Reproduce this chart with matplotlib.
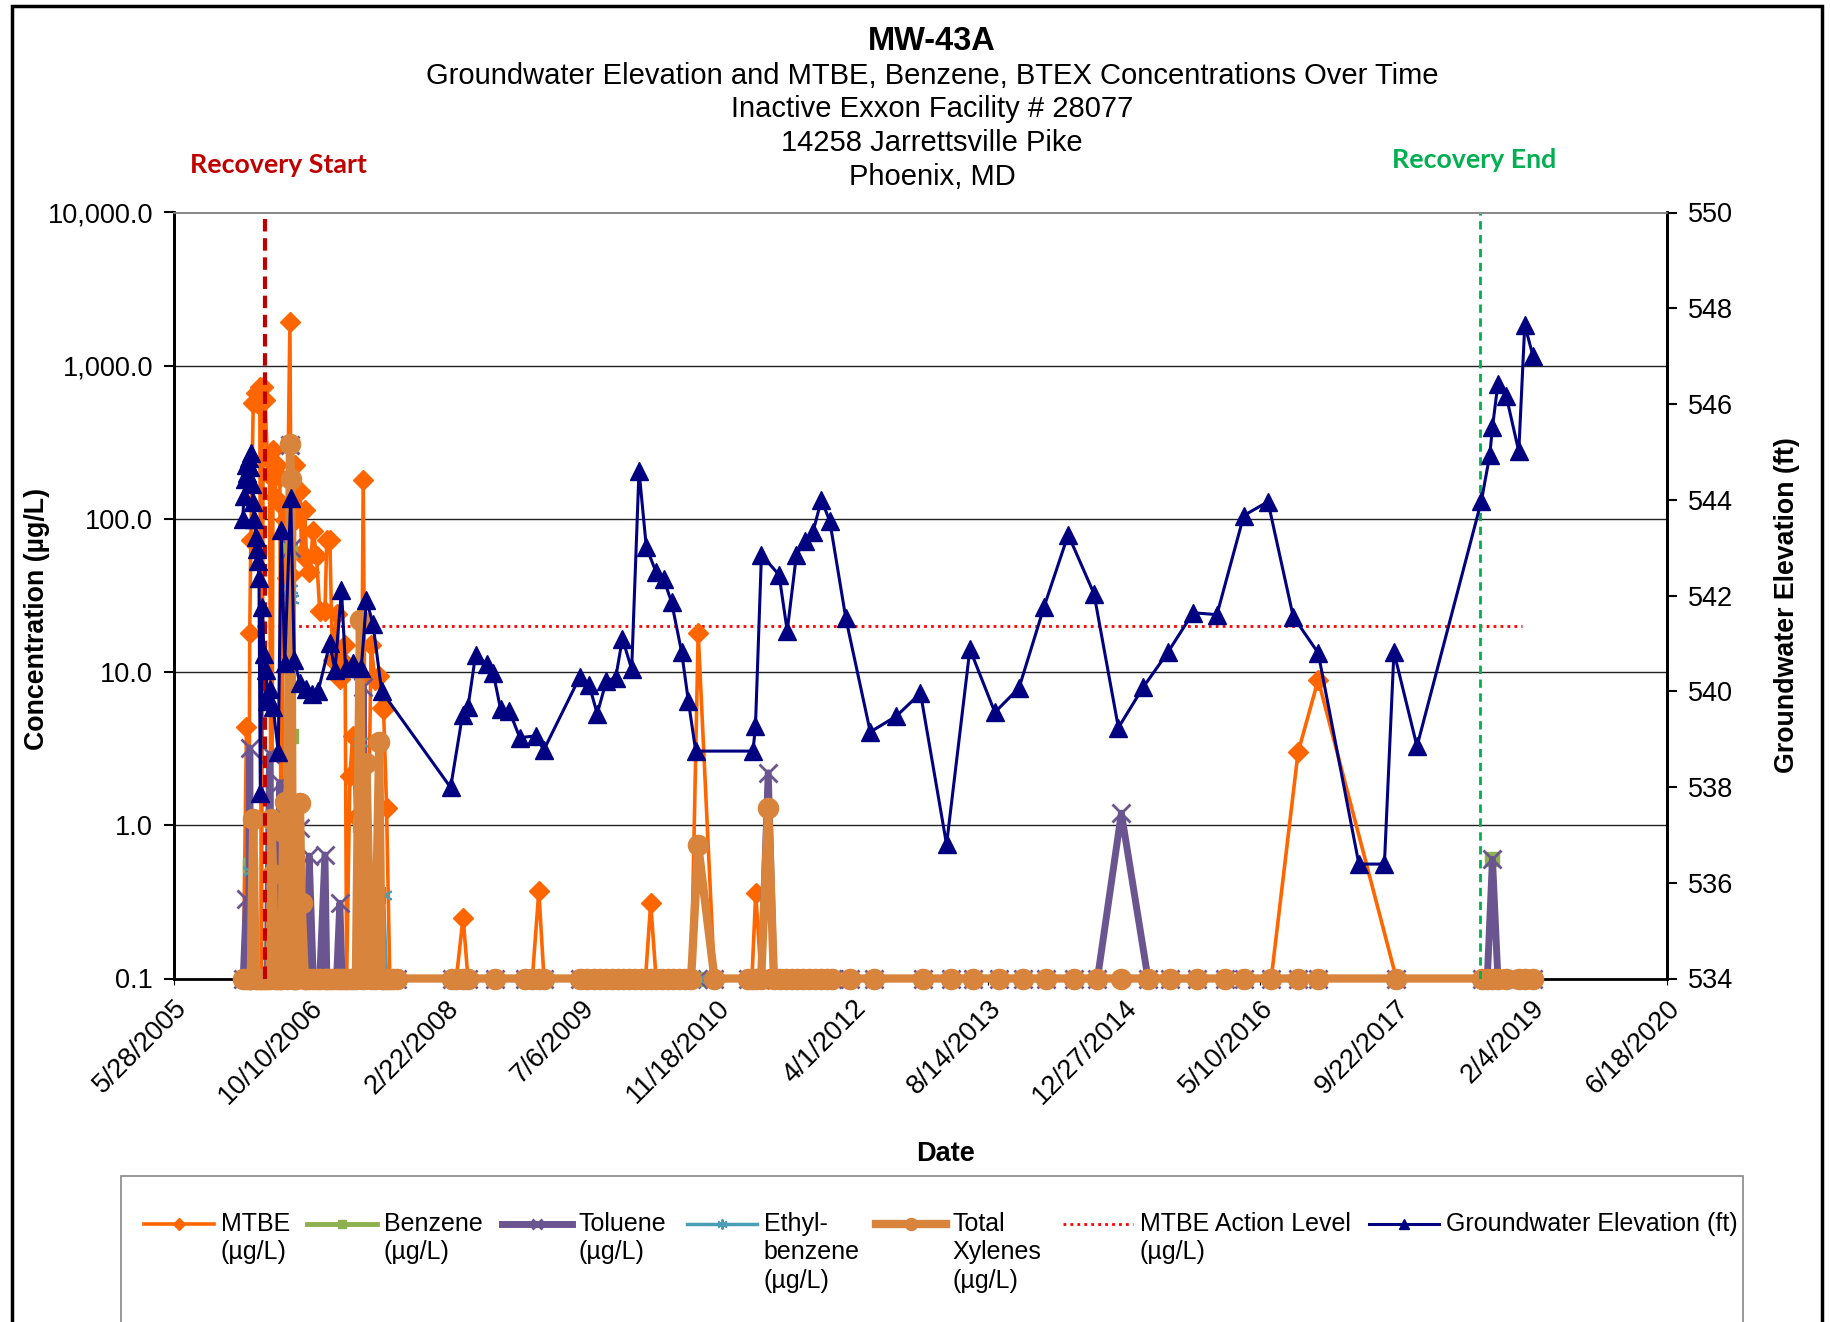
import pandas as pd
import matplotlib
matplotlib.use('Agg')
import matplotlib.pyplot as plt
from matplotlib.ticker import FixedLocator, FuncFormatter, NullLocator
from matplotlib.lines import Line2D
from matplotlib.patches import Rectangle

plt.rcParams['font.family'] = ['Liberation Sans', 'DejaVu Sans']

# ---- sampling data (non-detects plotted at 0.1 ug/L) ----
early_dates = [
    '2006-02-07', '2006-02-19', '2006-02-27', '2006-03-03', '2006-03-07', '2006-03-16',
    '2006-03-25', '2006-03-31', '2006-04-09', '2006-04-15', '2006-04-22', '2006-04-28',
    '2006-05-07', '2006-05-15', '2006-05-22', '2006-05-28', '2006-06-04', '2006-06-10',
    '2006-06-22', '2006-06-27', '2006-07-04', '2006-07-10', '2006-07-17', '2006-07-29',
    '2006-08-03', '2006-08-09', '2006-08-16', '2006-08-22', '2006-09-04', '2006-09-10',
    '2006-09-22', '2006-09-28', '2006-10-08', '2006-10-23', '2006-11-04', '2006-11-16',
    '2006-12-05', '2006-12-12', '2006-12-23', '2007-01-02', '2007-01-17', '2007-01-29',
    '2007-02-06', '2007-02-17', '2007-02-23', '2007-03-07', '2007-03-17', '2007-03-29',
    '2007-04-13', '2007-04-25', '2007-05-07', '2007-05-24', '2007-06-07', '2007-06-23',
    '2007-07-02', '2007-07-09', '2007-07-20', '2007-08-01', '2007-08-14', '2007-08-27',
]
early_mtbe = [
    0.1, 4.4, 0.1, 17.9, 73, 573, 660, 573, 730, 0.1, 730, 600,
    250, 190, 0.1, 282, 140, 224, 189, 0.1, 120, 98, 41, 1937,
    43, 0.1, 224, 100, 151, 60, 114, 55, 45, 83, 57, 25,
    25, 73, 73, 12, 24, 9, 12, 15, 0.1, 2.1, 3.8, 1.14,
    0.1, 180, 0.1, 15, 8.9, 9.5, 5.8, 5.7, 1.3, 0.1, 0.1, 0.1,
]
early_benzene = [
    0.1, 0.1, 0.1, 0.55, 0.1, 0.1, 0.1, 0.1, 0.1, 0.1, 0.1, 0.1,
    0.1, 0.1, 0.1, 0.1, 0.1, 0.1, 0.1, 0.1, 0.1, 0.1, 0.1, 63,
    3.8, 0.1, 0.1, 0.1, 0.1, 0.1, 0.1, 0.1, 0.1, 0.1, 0.1, 0.1,
    0.1, 0.1, 0.1, 0.1, 0.1, 0.1, 0.1, 0.1, 0.1, 0.1, 0.1, 0.1,
    1.0, 0.1, 0.1, 0.1, 0.1, 0.1, 0.1, 0.1, 0.1, 0.1, 0.1, 0.1,
]
early_toluene = [
    0.1, 0.33, 0.1, 3.2, 0.1, 0.1, 0.1, 0.1, 0.1, 0.1, 0.1, 0.1,
    0.1, 2.9, 0.1, 0.1, 0.1, 0.1, 1.9, 0.1, 0.1, 0.1, 0.1, 304,
    65, 0.1, 0.1, 0.1, 0.96, 0.1, 0.1, 0.1, 0.63, 0.1, 0.1, 0.1,
    0.64, 0.1, 0.1, 0.1, 0.1, 0.31, 0.1, 0.1, 0.1, 0.1, 0.1, 0.1,
    0.1, 8.0, 0.1, 0.1, 0.1, 0.1, 0.1, 0.1, 0.1, 0.1, 0.1, 0.1,
]
early_ethylbenzene = [
    0.1, 0.1, 0.1, 0.5, 0.1, 0.1, 0.1, 0.1, 0.1, 0.1, 0.1, 0.1,
    0.1, 0.1, 0.1, 0.1, 0.1, 0.1, 0.1, 0.1, 0.1, 0.1, 0.1, 35,
    30, 0.1, 0.1, 0.1, 0.1, 0.1, 0.1, 0.1, 0.1, 0.1, 0.1, 0.1,
    0.1, 0.1, 0.1, 0.1, 0.1, 0.1, 0.1, 0.1, 0.1, 0.1, 0.1, 0.1,
    3.5, 0.1, 0.1, 0.1, 0.1, 0.1, 0.1, 0.35, 0.1, 0.1, 0.1, 0.1,
]
early_xylenes = [
    0.1, 0.1, 0.1, 0.1, 0.1, 1.1, 0.1, 0.1, 0.1, 0.1, 0.1, 0.1,
    0.1, 0.1, 1.1, 0.48, 0.1, 0.1, 0.1, 0.1, 0.91, 1.43, 0.1, 309,
    181, 0.1, 0.1, 0.1, 1.4, 0.31, 0.1, 0.1, 0.1, 0.1, 0.1, 0.1,
    0.1, 0.1, 0.1, 0.1, 0.1, 0.1, 0.1, 0.1, 0.1, 0.1, 0.1, 0.1,
    22, 0.1, 2.54, 0.1, 0.1, 3.5, 0.1, 0.1, 0.1, 0.1, 0.1, 0.1,
]

late_dates = [
    '2008-03-16', '2008-04-02', '2008-04-27', '2008-05-15', '2008-08-22', '2008-12-12',
    '2009-01-07', '2009-01-31', '2009-02-19', '2009-07-02', '2009-07-28', '2009-08-23',
    '2009-09-13', '2009-10-05', '2009-10-26', '2009-11-17', '2009-12-08', '2009-12-30',
    '2010-01-20', '2010-02-11', '2010-02-28', '2010-03-19', '2010-04-08', '2010-04-29',
    '2010-05-21', '2010-06-11', '2010-07-03', '2010-07-24', '2010-08-15', '2010-09-10',
    '2010-11-09', '2011-03-14', '2011-03-27', '2011-04-10', '2011-04-30', '2011-05-26',
    '2011-06-16', '2011-07-08', '2011-07-29', '2011-08-20', '2011-09-10', '2011-10-02',
    '2011-10-23', '2011-11-14', '2011-12-05', '2011-12-27', '2012-01-17', '2012-03-22',
    '2012-06-20', '2012-12-18', '2013-03-31', '2013-06-19', '2013-09-23', '2013-12-18',
    '2014-03-14', '2014-06-26', '2014-09-20', '2014-12-17', '2015-03-25', '2015-06-15',
    '2015-09-22', '2016-01-02', '2016-03-12', '2016-06-21', '2016-09-28', '2016-12-11',
    '2017-09-25', '2018-08-05', '2018-08-26', '2018-09-14', '2018-10-04', '2018-11-03',
    '2018-12-20', '2019-01-11', '2019-02-10',
]
late_mtbe = [
    0.1, 0.1, 0.25, 0.1, 0.1, 0.1, 0.1, 0.37, 0.1, 0.1, 0.1, 0.1, 0.1, 0.1, 0.1,
    0.1, 0.1, 0.1, 0.1, 0.1, 0.1, 0.31, 0.1, 0.1, 0.1, 0.1, 0.1, 0.1, 0.1, 18,
    0.1, 0.1, 0.1, 0.36, 0.1, 0.1, 0.1, 0.1, 0.1, 0.1, 0.1, 0.1, 0.1, 0.1, 0.1,
    0.1, 0.1, 0.1, 0.1, 0.1, 0.1, 0.1, 0.1, 0.1, 0.1, 0.1, 0.1, 0.1, 0.1, 0.1,
    0.1, 0.1, 0.1, 0.1, 3.0, 8.9, 0.1, 0.1, 0.1, 0.1, 0.1, 0.1, 0.1, 0.1, 0.1,
]
late_benzene = [
    0.1, 0.1, 0.1, 0.1, 0.1, 0.1, 0.1, 0.1, 0.1, 0.1, 0.1, 0.1, 0.1, 0.1, 0.1,
    0.1, 0.1, 0.1, 0.1, 0.1, 0.1, 0.1, 0.1, 0.1, 0.1, 0.1, 0.1, 0.1, 0.1, 0.1,
    0.1, 0.1, 0.1, 0.1, 0.1, 0.1, 0.1, 0.1, 0.1, 0.1, 0.1, 0.1, 0.1, 0.1, 0.1,
    0.1, 0.1, 0.1, 0.1, 0.1, 0.1, 0.1, 0.1, 0.1, 0.1, 0.1, 0.1, 0.1, 0.1, 0.1,
    0.1, 0.1, 0.1, 0.1, 0.1, 0.1, 0.1, 0.1, 0.1, 0.6, 0.1, 0.1, 0.1, 0.1, 0.1,
]
late_toluene = [
    0.1, 0.1, 0.1, 0.1, 0.1, 0.1, 0.1, 0.1, 0.1, 0.1, 0.1, 0.1, 0.1, 0.1, 0.1,
    0.1, 0.1, 0.1, 0.1, 0.1, 0.1, 0.1, 0.1, 0.1, 0.1, 0.1, 0.1, 0.1, 0.1, 0.1,
    0.1, 0.1, 0.1, 0.1, 0.1, 2.2, 0.1, 0.1, 0.1, 0.1, 0.1, 0.1, 0.1, 0.1, 0.1,
    0.1, 0.1, 0.1, 0.1, 0.1, 0.1, 0.1, 0.1, 0.1, 0.1, 0.1, 0.1, 1.2, 0.1, 0.1,
    0.1, 0.1, 0.1, 0.1, 0.1, 0.1, 0.1, 0.1, 0.1, 0.6, 0.1, 0.1, 0.1, 0.1, 0.1,
]
late_ethylbenzene = [
    0.1, 0.1, 0.1, 0.1, 0.1, 0.1, 0.1, 0.1, 0.1, 0.1, 0.1, 0.1, 0.1, 0.1, 0.1,
    0.1, 0.1, 0.1, 0.1, 0.1, 0.1, 0.1, 0.1, 0.1, 0.1, 0.1, 0.1, 0.1, 0.1, 0.1,
    0.1, 0.1, 0.1, 0.1, 0.1, 0.1, 0.1, 0.1, 0.1, 0.1, 0.1, 0.1, 0.1, 0.1, 0.1,
    0.1, 0.1, 0.1, 0.1, 0.1, 0.1, 0.1, 0.1, 0.1, 0.1, 0.1, 0.1, 0.1, 0.1, 0.1,
    0.1, 0.1, 0.1, 0.1, 0.1, 0.1, 0.1, 0.1, 0.1, 0.1, 0.1, 0.1, 0.1, 0.1, 0.1,
]
late_xylenes = [
    0.1, 0.1, 0.1, 0.1, 0.1, 0.1, 0.1, 0.1, 0.1, 0.1, 0.1, 0.1, 0.1, 0.1, 0.1,
    0.1, 0.1, 0.1, 0.1, 0.1, 0.1, 0.1, 0.1, 0.1, 0.1, 0.1, 0.1, 0.1, 0.1, 0.74,
    0.1, 0.1, 0.1, 0.1, 0.1, 1.3, 0.1, 0.1, 0.1, 0.1, 0.1, 0.1, 0.1, 0.1, 0.1,
    0.1, 0.1, 0.1, 0.1, 0.1, 0.1, 0.1, 0.1, 0.1, 0.1, 0.1, 0.1, 0.1, 0.1, 0.1,
    0.1, 0.1, 0.1, 0.1, 0.1, 0.1, 0.1, 0.1, 0.1, 0.1, 0.1, 0.1, 0.1, 0.1, 0.1,
]

# ---- groundwater gauging ----
gw_dates = [
    '2006-02-05', '2006-02-10', '2006-02-14', '2006-02-18', '2006-02-22', '2006-02-27',
    '2006-03-03', '2006-03-07', '2006-03-12', '2006-03-16', '2006-03-20', '2006-03-25',
    '2006-03-29', '2006-04-02', '2006-04-06', '2006-04-11', '2006-04-19', '2006-04-24',
    '2006-05-02', '2006-05-07', '2006-05-15', '2006-05-28', '2006-06-16', '2006-06-27',
    '2006-07-10', '2006-08-01', '2006-08-14', '2006-09-04', '2006-09-26', '2006-10-17',
    '2006-11-10', '2006-12-23', '2007-01-11', '2007-02-04', '2007-02-19', '2007-03-18',
    '2007-04-18', '2007-05-07', '2007-05-31', '2007-07-02',
    '2008-03-12', '2008-04-25', '2008-05-15', '2008-06-12', '2008-07-24', '2008-08-16',
    '2008-09-12', '2008-10-14', '2008-11-22', '2009-01-22', '2009-02-18', '2009-07-01',
    '2009-08-04', '2009-09-03', '2009-10-07', '2009-11-10', '2009-12-05', '2010-01-08',
    '2010-02-04', '2010-03-03', '2010-04-07', '2010-05-06', '2010-06-04', '2010-07-11',
    '2010-08-05', '2010-09-01', '2011-03-31', '2011-04-09', '2011-05-01', '2011-07-05',
    '2011-08-04', '2011-09-07', '2011-10-08', '2011-11-07', '2011-12-08', '2012-01-08',
    '2012-03-07', '2012-06-05', '2012-09-09', '2012-12-07', '2013-03-13', '2013-06-07',
    '2013-09-07', '2013-12-05', '2014-03-07', '2014-06-04', '2014-09-07', '2014-12-06',
    '2015-03-07', '2015-06-07', '2015-09-07', '2015-12-04', '2016-03-12', '2016-06-09',
    '2016-09-10', '2016-12-11', '2017-05-10', '2017-08-12', '2017-09-16', '2017-12-10',
    '2018-08-04', '2018-09-04', '2018-09-14', '2018-10-04', '2018-11-04', '2018-12-20',
    '2019-01-11', '2019-02-10',
]
gw_elev = [
    543.59, 544.07, 544.44, 544.73, 544.56, 544.88,
    544.68, 544.98, 544.32, 543.95, 543.59, 543.22,
    542.98, 542.73, 542.37, 537.88, 541.76, 540.78,
    540.44, 539.80, 540.05, 539.68, 538.74, 543.37,
    540.59, 544.04, 540.66, 540.17, 540.05, 539.95,
    540.00, 541.00, 540.44, 542.12, 540.49, 540.59,
    540.49, 541.90, 541.41, 540.00,
    537.99, 539.51, 539.67, 540.76, 540.57, 540.38,
    539.63, 539.59, 539.03, 539.07, 538.77, 540.30,
    540.14, 539.53, 540.22, 540.28, 541.10, 540.46,
    544.61, 543.01, 542.50, 542.34, 541.86, 540.82,
    539.79, 538.75, 538.75, 539.27, 542.85, 542.43,
    541.26, 542.85, 543.13, 543.33, 544.00, 543.55,
    541.52, 539.15, 539.48, 539.96, 536.80, 540.88,
    539.56, 540.07, 541.76, 543.27, 542.04, 539.24,
    540.08, 540.82, 541.64, 541.60, 543.67, 543.96,
    541.56, 540.80, 536.39, 536.39, 540.82, 538.85,
    543.97, 544.93, 545.51, 546.42, 546.16, 545.01,
    547.65, 547.01,
]

action_level_dates = ['2006-03-03', '2019-01-01']
action_level = [20, 20]

recovery_start = '2006-04-28'
recovery_end = '2018-07-31'

# ---- figure ----
fig = plt.figure(figsize=(18.31, 13.22), dpi=100)
ax = fig.add_axes([174 / 1831, 1 - 978.5 / 1322, (1667 - 174) / 1831, (978.5 - 212.5) / 1322])
ax2 = ax.twinx()

conc_dates = pd.to_datetime(early_dates + late_dates)

styles = [
    ('MTBE\n(µg/L)', early_mtbe + late_mtbe,
     dict(color='#FF6600', lw=2.6, marker='D', ms=10, mec='#FF6600')),
    ('Benzene\n(µg/L)', early_benzene + late_benzene,
     dict(color='#8EB04F', lw=3.5, marker='s', ms=10, mec='#8EB04F')),
    ('Toluene\n(µg/L)', early_toluene + late_toluene,
     dict(color='#6B5590', lw=5, marker='x', ms=13, mew=2)),
    ('Ethyl-\nbenzene\n(µg/L)', early_ethylbenzene + late_ethylbenzene,
     dict(color='#4A9EB5', lw=2.5, marker=(6, 2, 0), ms=12, mew=1.5)),
    ('Total\nXylenes\n(µg/L)', early_xylenes + late_xylenes,
     dict(color='#D8843D', lw=6, marker='o', ms=14.5, mec='#D8843D')),
]
# concentrations sit on top of the bottom axis line, like the original
for label, vals, st in styles:
    ax.plot(conc_dates, vals, clip_on=False, zorder=3, **st)

ax.plot(pd.to_datetime(action_level_dates), action_level, color='red', lw=2, ls=(0, (1, 1.5)))

ax.set_yscale('log')
ax.set_ylim(0.1, 10000)
ax.yaxis.set_major_locator(FixedLocator([0.1, 1, 10, 100, 1000, 10000]))
ax.yaxis.set_minor_locator(NullLocator())
ax.yaxis.set_major_formatter(FuncFormatter(lambda v, p: f'{v:,.1f}'))
ax.grid(axis='y', color='#222222', lw=1)

tick_dates = pd.date_range('2005-05-28', periods=12, freq='500D')
ax.set_xlim(tick_dates[0], tick_dates[-1])
ax.set_xticks(tick_dates)
ax.set_xticklabels([f'{d.month}/{d.day}/{d.year}' for d in tick_dates],
                   rotation=45, ha='right', rotation_mode='anchor')
ax.tick_params(axis='x', labelsize=19.5, length=4, pad=8)
ax.tick_params(axis='y', labelsize=19.5, length=7, width=1.5, pad=8)

# recovery period markers + groundwater on secondary axis
ax2.axvline(pd.Timestamp(recovery_start), color='#C00000', lw=3, ls=(0, (3, 1.6)), zorder=1)
ax2.axvline(pd.Timestamp(recovery_end), color='#00B050', lw=2, ls=(0, (3, 2)), zorder=1)
ax2.plot(pd.to_datetime(gw_dates), gw_elev, color='#000080', lw=2.2, marker='^', ms=13, zorder=3)
ax2.set_ylim(534, 550)
ax2.set_yticks(range(534, 551, 2))
ax2.tick_params(axis='y', labelsize=19.5, length=7, width=1.5, pad=8)

for a in (ax, ax2):
    for s in ('left', 'bottom', 'right'):
        a.spines[s].set_linewidth(2)
        a.spines[s].set_color('black')
    a.spines['top'].set_color('#888888')
    a.spines['top'].set_linewidth(1.2)
ax2.spines['bottom'].set_visible(False)

# titles
cx = 932 / 1831
fig.text(cx, 1 - 41 / 1322, 'MW-43A', ha='center', va='center', fontsize=23.5, fontweight='bold')
subtitle = ['Groundwater Elevation and MTBE, Benzene, BTEX Concentrations Over Time',
            'Inactive Exxon Facility # 28077', '14258 Jarrettsville Pike', 'Phoenix, MD']
for i, line in enumerate(subtitle):
    fig.text(cx, 1 - (75.5 + 33.9 * i) / 1322, line, ha='center', va='center', fontsize=21)

fig.text(278 / 1831, 1 - 165 / 1322, 'Recovery Start', ha='center', va='center',
         fontsize=19.3, fontweight='bold', color='#C00000', family='Lato')
fig.text(1474 / 1831, 1 - 160 / 1322, 'Recovery End', ha='center', va='center',
         fontsize=19.3, fontweight='bold', color='#00B050', family='Lato')

fig.text(37 / 1831, 1 - 619 / 1322, 'Concentration (µg/L)', rotation=90, ha='center', va='center',
         fontsize=19.3, fontweight='bold')
fig.text(1787 / 1831, 1 - 605 / 1322, 'Groundwater Elevation (ft)', rotation=90, ha='center',
         va='center', fontsize=19.3, fontweight='bold')
fig.text(946 / 1831, 1 - 1154 / 1322, 'Date', ha='center', va='center', fontsize=19.5, fontweight='bold')

# legend box and entries
fig.add_artist(Rectangle((121 / 1831, -0.05), (1743 - 121) / 1831, 0.05 + 1 - 1176 / 1322,
                         transform=fig.transFigure, fill=False, ec='#888888', lw=1.2))
legend_items = [(lab, st) for lab, _, st in styles]
legend_items.append(('MTBE Action Level\n(µg/L)', dict(color='red', lw=2, ls=(0, (1, 1.5)))))
legend_items.append(('Groundwater Elevation (ft)', dict(color='#000080', lw=2.2, marker='^', ms=13)))
leg_x = [143.6, 307, 502, 686.6, 875.8, 1062.6, 1368.6]
ly = 1 - 1223.7 / 1322
for (lab, st), x0 in zip(legend_items, leg_x):
    st = dict(st)
    mk = st.pop('marker', None)
    ms = st.pop('ms', 0)
    mew = st.pop('mew', None)
    st.pop('mec', None)
    fig.add_artist(Line2D([x0 / 1831, (x0 + 70) / 1831], [ly, ly], transform=fig.transFigure, **st))
    if mk is not None:
        fig.add_artist(Line2D([(x0 + 35) / 1831], [ly], transform=fig.transFigure, marker=mk,
                              ms=ms * 0.6, color=st['color'], mew=mew if mew else 1, ls='none'))
    fig.text((x0 + 77) / 1831, ly + 12 / 1322, lab, ha='left', va='top', fontsize=18, linespacing=1.25)

# outer chart border
fig.add_artist(Rectangle((12 / 1831, -0.05), (1822 - 12) / 1831, 0.05 + 1 - 6 / 1322,
                         transform=fig.transFigure, fill=False, ec='black', lw=2.5))

fig.savefig('out.png', dpi=100)
